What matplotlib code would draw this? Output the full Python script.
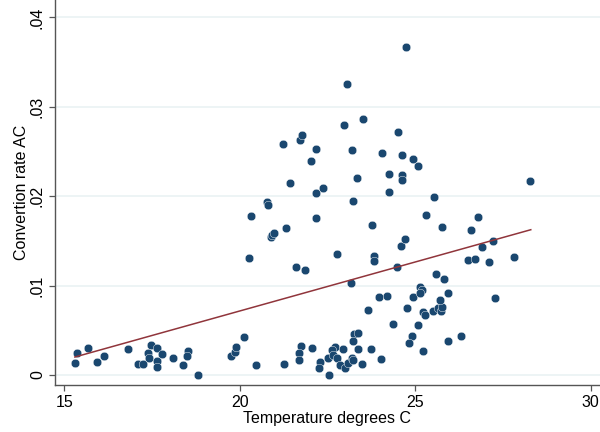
import matplotlib
matplotlib.use("Agg")
import matplotlib.pyplot as plt

temperature = [
    15.31, 15.37, 15.67, 15.93, 16.12, 16.81, 17.10, 17.24, 17.46, 17.63,
    17.39, 17.79, 17.41, 17.63, 17.63, 18.10, 18.38, 18.53, 18.49, 18.80,
    19.75, 19.86, 19.90, 20.12, 20.45,
    20.31, 20.25, 20.78, 20.80, 20.89, 20.93, 20.98, 21.22, 21.31, 21.42,
    21.60, 21.72, 21.76, 21.86, 22.03, 22.16, 22.16, 22.17, 22.37,
    21.25, 21.73, 21.68, 21.70, 22.05, 22.29, 22.27, 22.52, 22.54,
    22.96, 23.06, 23.21, 23.23, 23.33, 23.52, 23.77, 24.06, 24.24, 24.24,
    24.51, 24.61, 24.61, 24.63, 24.73, 24.94, 25.08,
    22.76, 23.16, 23.81, 23.83, 23.97, 24.19, 24.47, 24.60, 24.71, 24.93,
    23.64, 24.76, 24.35, 25.07, 23.25, 23.37, 23.23, 24.90, 24.83,
    22.71, 22.62, 22.95, 22.66, 22.76, 22.86, 23.00, 23.09, 23.19, 23.23,
    23.38, 23.49, 23.74, 24.02,
    25.13, 25.18, 25.12, 25.23, 25.21, 25.29, 25.30, 25.50, 25.66, 25.72,
    25.76, 25.54, 25.60, 25.82, 25.70, 25.77, 25.94, 25.93, 26.31, 26.50,
    26.70, 26.60, 26.80, 26.91, 27.11, 27.20, 27.27, 27.80, 28.28,
]

conversion = [
    0.00131, 0.00246, 0.00299, 0.00149, 0.00213, 0.00291, 0.00123, 0.00123, 0.00336, 0.00302,
    0.00249, 0.00240, 0.00190, 0.00157, 0.00089, 0.00187, 0.00115, 0.00268, 0.00213, 0.00000,
    0.00207, 0.00257, 0.00313, 0.00425, 0.00112,
    0.01773, 0.01309, 0.01935, 0.01907, 0.01540, 0.01566, 0.01592, 0.02589, 0.01644, 0.02153,
    0.01211, 0.02629, 0.02690, 0.01171, 0.02397, 0.02528, 0.02032, 0.01760, 0.02095,
    0.00123, 0.00328, 0.00243, 0.00168, 0.00299, 0.00149, 0.00082, 0.00187, 0.00000,
    0.02800, 0.03257, 0.02522, 0.01949, 0.02198, 0.02864, 0.01674, 0.02480, 0.02047, 0.02252,
    0.02715, 0.02464, 0.02234, 0.02179, 0.03667, 0.02413, 0.02338,
    0.01348, 0.01031, 0.01333, 0.01270, 0.00875, 0.00884, 0.01208, 0.01440, 0.01521, 0.00875,
    0.00729, 0.00746, 0.00570, 0.00562, 0.00455, 0.00470, 0.00377, 0.00440, 0.00356,
    0.00317, 0.00280, 0.00287, 0.00224, 0.00187, 0.00112, 0.00075, 0.00131, 0.00187, 0.00168,
    0.00287, 0.00123, 0.00291, 0.00176,
    0.00988, 0.00951, 0.00921, 0.00266, 0.00710, 0.00671, 0.01793, 0.00719, 0.00744, 0.00716,
    0.00764, 0.01994, 0.01130, 0.01077, 0.00842, 0.01659, 0.00912, 0.00377, 0.00433, 0.01286,
    0.01300, 0.01625, 0.01767, 0.01437, 0.01267, 0.01496, 0.00865, 0.01323, 0.02167,
]

fit_x = [15.30, 28.29]
fit_y = [0.00201, 0.01625]

x_ticks = [15, 20, 25, 30]
y_ticks = [0, 0.01, 0.02, 0.03, 0.04]
y_tick_labels = ["0", ".01", ".02", ".03", ".04"]

plt.rcParams['font.family'] = ['Liberation Sans', 'DejaVu Sans']

fig = plt.figure(figsize=(6, 4.32), dpi=100)
ax = fig.add_axes([0.0912, 0.1088, 0.9088, 0.8912])

ax.set_xlim(14.726, 30.262)
ax.set_ylim(-0.001119, 0.041946)

for yv in y_ticks:
    ax.axhline(yv, color='#eaf2f3', lw=1.2, zorder=0)

ax.scatter(temperature, conversion, s=38, color='#1a476f', edgecolors='white',
           linewidths=0.3, zorder=3)
ax.plot(fit_x, fit_y, color='#90353b', lw=1.1, zorder=4)

ax.set_xticks(x_ticks)
ax.set_xticklabels([str(t) for t in x_ticks])
ax.set_yticks(y_ticks)
ax.set_yticklabels(y_tick_labels, rotation=90, va='center')

for side in ['top', 'right']:
    ax.spines[side].set_visible(False)
for side in ['left', 'bottom']:
    ax.spines[side].set_color('#555555')
    ax.spines[side].set_linewidth(1.0)

ax.tick_params(axis='x', direction='out', length=4, width=0.9, color='#555555',
               labelsize=11.5, pad=3)
ax.tick_params(axis='y', direction='out', length=4, width=0.9, color='#555555',
               labelsize=11.5, pad=3)

ax.set_xlabel('Temperature degrees C', fontsize=11.5, labelpad=1)
ax.set_ylabel('Convertion rate AC', fontsize=11.5, labelpad=1)

fig.savefig('out.png', dpi=100, facecolor='white')
